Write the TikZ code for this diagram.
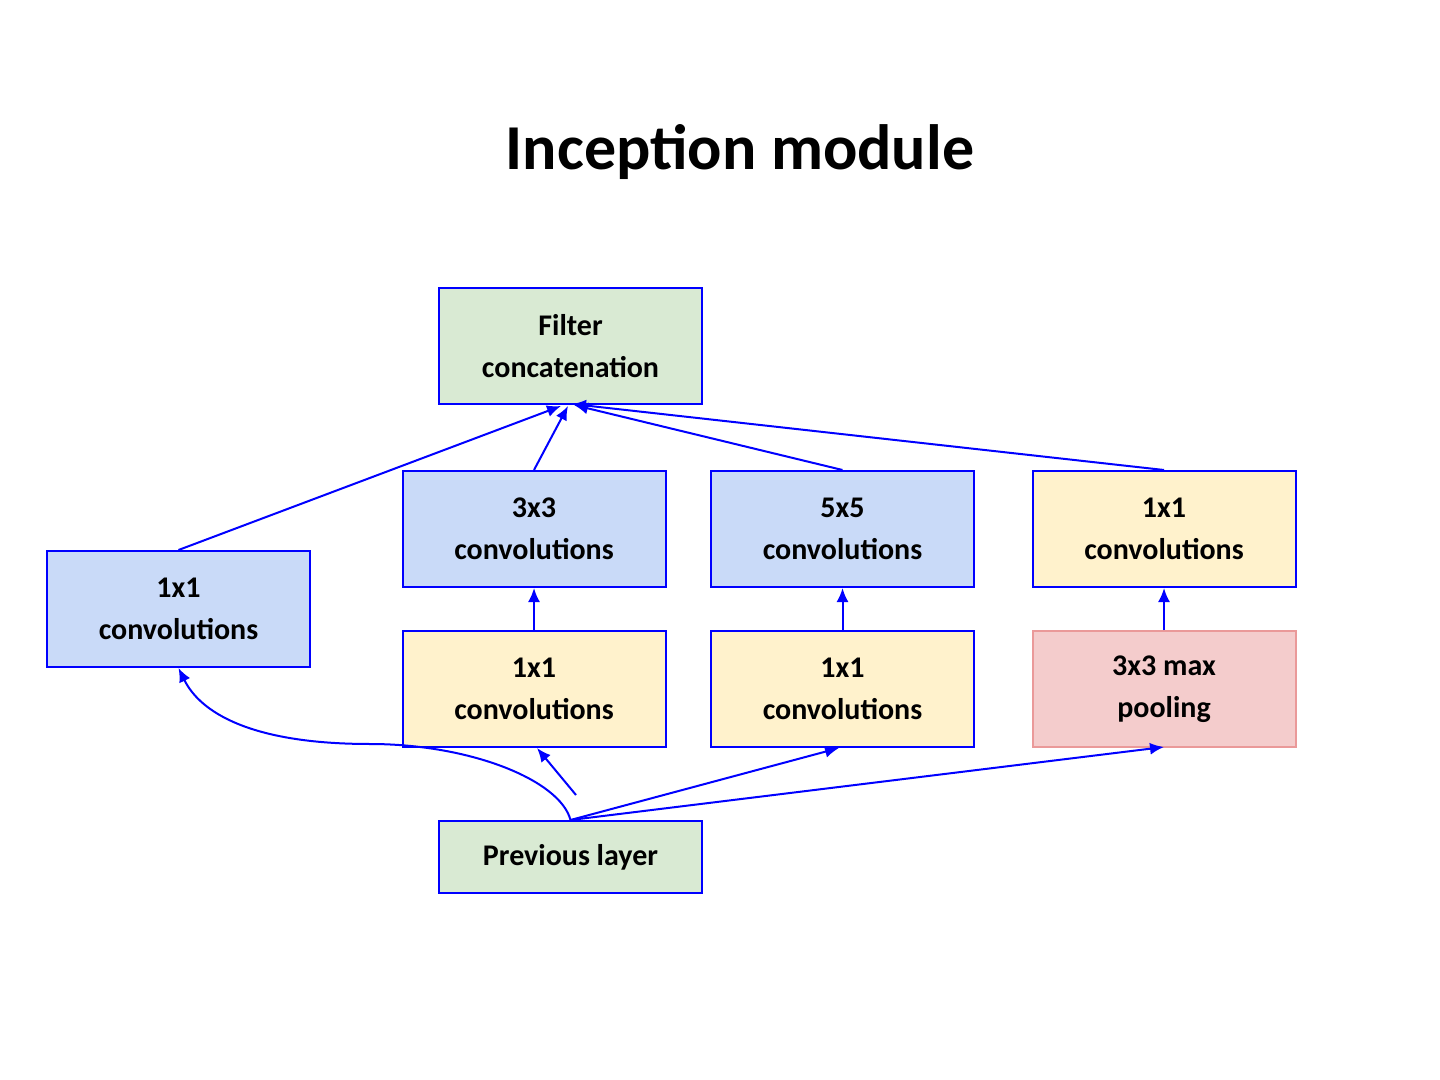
\documentclass[tikz,border=0pt]{standalone}
\usepackage{fontspec}
\setmainfont{Carlito}
\usetikzlibrary{arrows.meta}
\definecolor{cblue}{HTML}{C9DAF8}
\definecolor{cgreen}{HTML}{D9EAD3}
\definecolor{cyellow}{HTML}{FFF2CC}
\definecolor{cpink}{HTML}{F4CCCC}
\definecolor{cpinkb}{HTML}{EA9999}
\begin{document}
\begin{tikzpicture}[x=0.5pt,y=-0.5pt,
  box/.style={draw=blue,line width=1pt,minimum width=131.5pt,minimum height=58pt,inner sep=0pt,align=center,font=\fontsize{15}{21}\selectfont\bfseries},
  arr/.style={blue,line width=1pt,-{Latex[length=7pt,width=6pt]}},
  ln/.style={blue,line width=1pt}]
\useasboundingbox (0,0) rectangle (1440,1080);
\node[font=\fontsize{32}{38}\selectfont\bfseries] (title) at (740,152) {Inception module};
\node[box,fill=cgreen] (fc) at (570.5,346) {Filter\\concatenation};
\node[box,fill=cblue] (c3) at (534,529) {3x3\\convolutions};
\node[box,fill=cblue] (c5) at (842.5,529) {5x5\\convolutions};
\node[box,fill=cyellow] (c1r) at (1164,529) {1x1\\convolutions};
\node[box,fill=cblue] (c1l) at (178.5,609) {1x1\\convolutions};
\node[box,fill=cyellow] (r3) at (534,689) {1x1\\convolutions};
\node[box,fill=cyellow] (r5) at (842.5,689) {1x1\\convolutions};
\node[box,fill=cpink,draw=cpinkb] (mp) at (1164,689) {3x3 max\\pooling};
\node[box,fill=cgreen,minimum height=36pt] (prev) at (570.5,857) {Previous layer};
\coordinate (fcb) at (570,405);
\draw[arr] (c1l.north) -- (561,406);
\draw[arr] (c3.north) -- (568,406);
\draw[arr] (c5.north) -- (574,405);
\draw[arr] (c1r.north) -- (572,404);
\draw[arr] (r3.north) -- (c3.south);
\draw[arr] (r5.north) -- (c5.south);
\draw[arr] (mp.north) -- (c1r.south);
\draw[arr] (prev.north) .. controls (560,780) and (470,744) .. (370,744) .. controls (250,744) and (200,712) .. (c1l.south);
\coordinate (s3) at (576,795);
\draw[arr] (s3) -- (537,748);
\draw[arr] (prev.north) -- (839,748);
\draw[arr] (prev.north) -- (1164,747);
\end{tikzpicture}
\end{document}
